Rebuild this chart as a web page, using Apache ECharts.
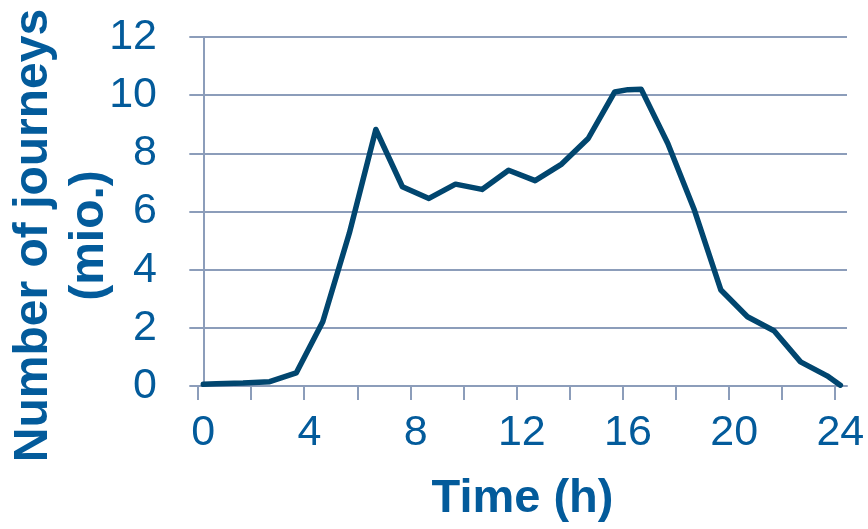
<!DOCTYPE html>
<html>
<head>
<meta charset="utf-8">
<script src="https://cdn.jsdelivr.net/npm/echarts@6/dist/echarts.min.js"></script>
<style>
  html, body { margin: 0; padding: 0; background: #ffffff; }
  #chart { width: 868px; height: 529px; }
</style>
</head>
<body>
<div id="chart"></div>
<script>
// Hourly journey counts (millions); hourly values sit at the middle of each hour
const hours = [0, 0.5, 1.5, 2.5, 3.5, 4.5, 5.5, 6.5, 7.5, 8.5, 9.5, 10.5, 11.5, 12.5, 13.5,
               14.5, 15.5, 16, 16.5, 17.5, 18.5, 19.5, 20.5, 21.5, 22.5, 23.5, 24];
const journeys = [0.06, 0.08, 0.10, 0.15, 0.45, 2.21, 5.25, 8.82, 6.85, 6.45, 6.94, 6.76, 7.42, 7.06, 7.63,
                  8.51, 10.11, 10.19, 10.20, 8.34, 6.05, 3.30, 2.38, 1.90, 0.83, 0.35, 0.03];
const timeLabels = [0, 4, 8, 12, 16, 20, 24];
const journeyTicks = [0, 2, 4, 6, 8, 10, 12];

const textBlue = '#035b9b';
const lineBlue = '#01466f';
const gridGrey = '#8c9dba';
const font = '"Liberation Sans", Arial, sans-serif';

// tick marks every two hours along the time axis
const xMin = -0.2, xMax = 24.25;
const tickMarks = [];
for (let t = xMin; t < 24; t += 2) tickMarks.push(+t.toFixed(2));

const chart = echarts.init(document.getElementById('chart'), null, { renderer: 'canvas' });
chart.setOption({
  animation: false,
  backgroundColor: '#ffffff',
  grid: { left: 198, right: 21, top: 37, bottom: 143, containLabel: false, outerBoundsMode: 'none' },
  xAxis: {
    type: 'value',
    min: xMin,
    max: xMax,
    name: 'Time (h)',
    nameLocation: 'middle',
    nameGap: 90,
    nameMoveOverlap: false,
    nameTextStyle: { color: textBlue, fontSize: 47, fontWeight: 'bold', fontFamily: font },
    axisLine: { show: true, lineStyle: { color: gridGrey, width: 2 } },
    axisTick: { show: true, length: 14, customValues: tickMarks, lineStyle: { color: gridGrey, width: 2 } },
    axisLabel: { customValues: timeLabels, color: textBlue, fontSize: 43, fontFamily: font, margin: 26 },
    splitLine: { show: false }
  },
  yAxis: {
    type: 'value',
    min: journeyTicks[0],
    max: journeyTicks[journeyTicks.length - 1],
    interval: 2,
    name: 'Number of journeys\n(mio.)',
    nameLocation: 'middle',
    nameRotate: 90,
    nameGap: 80,
    nameMoveOverlap: false,
    nameTextStyle: {
      color: textBlue, fontSize: 48, fontWeight: 'bold', fontFamily: font,
      lineHeight: 56, align: 'center', padding: [0, 48, 0, 0]
    },
    axisLine: { show: true, lineStyle: { color: gridGrey, width: 2 } },
    axisTick: { show: true, length: 14, lineStyle: { color: gridGrey, width: 2 } },
    axisLabel: { color: textBlue, fontSize: 43, fontFamily: font, margin: 41 },
    splitLine: { show: true, lineStyle: { color: gridGrey, width: 2 } }
  },
  series: [{
    type: 'line',
    data: hours.map((h, i) => [h, journeys[i]]),
    showSymbol: false,
    smooth: false,
    lineStyle: { color: lineBlue, width: 5.5, cap: 'round', join: 'round' }
  }]
});
</script>
</body>
</html>
